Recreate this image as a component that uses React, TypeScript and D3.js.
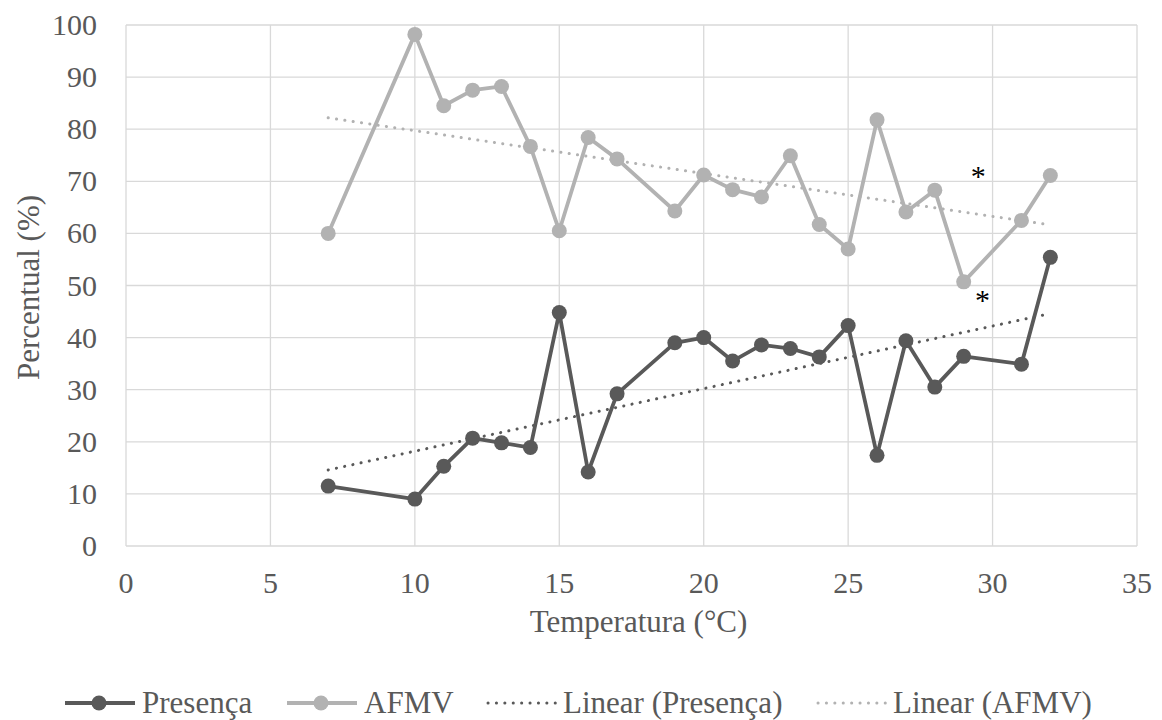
import React from "react";
import * as d3 from "d3";

// Temperatura (°C) for each observation
const temps = [7, 10, 11, 12, 13, 14, 15, 16, 17, 19, 20, 21, 22, 23, 24, 25, 26, 27, 28, 29, 31, 32];
const presenca = [11.5, 9, 15.3, 20.7, 19.8, 18.9, 44.8, 14.2, 29.2, 39, 40, 35.5, 38.6, 37.9, 36.3, 42.3, 17.4, 39.4, 30.5, 36.4, 34.9, 55.4];
const afmv = [60, 98.2, 84.5, 87.5, 88.2, 76.7, 60.5, 78.4, 74.3, 64.3, 71.2, 68.4, 67, 74.9, 61.7, 57, 81.8, 64.1, 68.3, 50.7, 62.5, 71.1];
const xTicks = [0, 5, 10, 15, 20, 25, 30, 35];
const yTicks = [0, 10, 20, 30, 40, 50, 60, 70, 80, 90, 100];
const stars = [
  { x: 29.5, y: 71.6 },
  { x: 29.65, y: 47.8 },
];

const W = 1162;
const H = 720;
const m = { left: 126, right: 25, top: 25, bottom: 174 };
const DARK = "#595959";
const LIGHT = "#b2b2b2";
const FONT = '"Liberation Serif", "Times New Roman", serif';
const FS = 30;

const fit = (xs: number[], ys: number[]) => {
  const mx = d3.mean(xs)!;
  const my = d3.mean(ys)!;
  const b = d3.sum(xs, (x, i) => (x - mx) * (ys[i] - my)) / d3.sum(xs, (x) => (x - mx) ** 2);
  const a = my - b * mx;
  return (x: number) => a + b * x;
};

const txt = { fontFamily: FONT, fill: "#595959" };

export default function App() {
  const x = d3.scaleLinear().domain([0, 35]).range([m.left, W - m.right]);
  const y = d3.scaleLinear().domain([0, 100]).range([H - m.bottom, m.top]);

  const line = d3
    .line<number>()
    .x((d, i) => x(temps[i]))
    .y((d) => y(d));

  const xMin = d3.min(temps)!;
  const xMax = d3.max(temps)!;
  const trendP = fit(temps, presenca);
  const trendA = fit(temps, afmv);

  const series = [
    { vals: afmv, color: LIGHT, trend: trendA },
    { vals: presenca, color: DARK, trend: trendP },
  ];

  const legend = [
    { label: "Presença", color: DARK, dotted: false, x0: 65 },
    { label: "AFMV", color: LIGHT, dotted: false, x0: 287 },
    { label: "Linear (Presença)", color: DARK, dotted: true, x0: 486 },
    { label: "Linear (AFMV)", color: LIGHT, dotted: true, x0: 816 },
  ];
  const ly = 703;

  return (
    <svg width={W} height={H} style={{ position: "absolute", left: 0, top: 0, background: "#fff" }}>
      <rect width={W} height={H} fill="#fff" />
      {yTicks.map((t) => (
        <line key={"gy" + t} x1={x(0)} x2={x(35)} y1={y(t)} y2={y(t)} stroke="#d9d9d9" strokeWidth={1.3} />
      ))}
      {xTicks.map((t) => (
        <line key={"gx" + t} x1={x(t)} x2={x(t)} y1={y(0)} y2={y(100)} stroke="#d9d9d9" strokeWidth={1.3} />
      ))}
      {yTicks.map((t) => (
        <text key={"ty" + t} x={x(0) - 29} y={y(t) + 10} textAnchor="end" fontSize={FS} style={txt}>
          {t}
        </text>
      ))}
      {xTicks.map((t) => (
        <text key={"tx" + t} x={x(t)} y={y(0) + 47} textAnchor="middle" fontSize={FS} style={txt}>
          {t}
        </text>
      ))}
      <text x={(x(0) + x(35)) / 2 + 7} y={632} textAnchor="middle" fontSize={31} style={txt}>
        Temperatura (°C)
      </text>
      <text
        transform={`translate(39,${(y(0) + y(100)) / 2 + 2}) rotate(-90)`}
        textAnchor="middle"
        fontSize={31}
        style={txt}
      >
        Percentual (%)
      </text>

      {series.map((s, k) => (
        <g key={"s" + k}>
          <line
            x1={x(xMin)}
            x2={x(xMax)}
            y1={y(s.trend(xMin))}
            y2={y(s.trend(xMax))}
            stroke={s.color}
            strokeWidth={3}
            strokeDasharray="0.1 8.3"
            strokeLinecap="round"
          />
          <path d={line(s.vals)!} fill="none" stroke={s.color} strokeWidth={3.8} strokeLinejoin="round" />
          {s.vals.map((v, i) => (
            <circle key={i} cx={x(temps[i])} cy={y(v)} r={7.5} fill={s.color} />
          ))}
        </g>
      ))}

      {stars.map((s, i) => (
        <text
          key={"st" + i}
          x={x(s.x)}
          y={y(s.y) + 13}
          textAnchor="middle"
          fontSize={30}
          style={{ fontFamily: FONT, fill: "#000" }}
        >
          *
        </text>
      ))}

      {legend.map((l) => (
        <g key={l.label}>
          {l.dotted ? (
            <line
              x1={l.x0 + 2}
              x2={l.x0 + 70}
              y1={ly}
              y2={ly}
              stroke={l.color}
              strokeWidth={3}
              strokeDasharray="0.1 8.3"
              strokeLinecap="round"
            />
          ) : (
            <g>
              <line x1={l.x0} x2={l.x0 + 70} y1={ly} y2={ly} stroke={l.color} strokeWidth={4} />
              <circle cx={l.x0 + 34} cy={ly} r={7.5} fill={l.color} />
            </g>
          )}
          <text x={l.x0 + 77} y={ly + 10} fontSize={31} style={txt}>
            {l.label}
          </text>
        </g>
      ))}
    </svg>
  );
}
